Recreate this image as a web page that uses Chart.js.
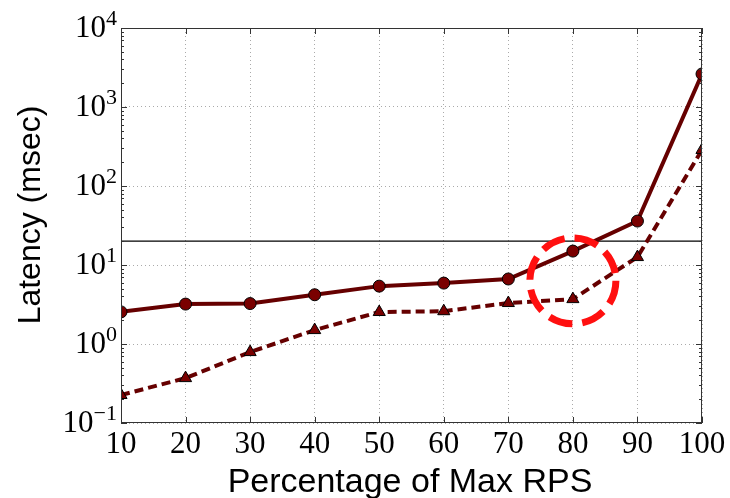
<!DOCTYPE html>
<html>
<head>
<meta charset="utf-8">
<script src="https://cdn.jsdelivr.net/npm/chart.js@4"></script>
<style>
  html, body { margin: 0; padding: 0; background: #fff; }
  #wrap { width: 730px; height: 498px; }
</style>
</head>
<body>
<div id="wrap"><canvas id="chart" width="730" height="498"></canvas></div>
<script>
// Data
const rpsPercent = [10, 20, 30, 40, 50, 60, 70, 80, 90, 100];
const latencyCircle = [2.55, 3.2, 3.25, 4.2, 5.4, 5.9, 6.65, 15, 36, 2620];
const latencyTriangle = [0.226, 0.37, 0.79, 1.5, 2.54, 2.6, 3.3, 3.7, 12.6, 286];
const sloLatency = 20;
const xTickValues = [10, 20, 30, 40, 50, 60, 70, 80, 90, 100];
const yTickExponents = [-1, 0, 1, 2, 3, 4];
const highlightPoint = [80, 6.3];

const xTitle = "Percentage of Max RPS";
const yTitle = "Latency (msec)";

const lineColor = "#660000";
const markerColor = "#7a0000";

function toPoints(xs, ys) {
  return xs.map((x, i) => ({ x: x, y: ys[i] }));
}

// Ticks, labels, frame and the highlight circle
const decorPlugin = {
  id: "decor",
  afterDraw(chart) {
    const ctx = chart.ctx;
    const area = chart.chartArea;
    const xs = chart.scales.x;
    const ys = chart.scales.y;
    ctx.save();

    // highlight circle
    ctx.beginPath();
    ctx.arc(xs.getPixelForValue(highlightPoint[0]), ys.getPixelForValue(highlightPoint[1]), 43, 0, Math.PI * 2);
    ctx.strokeStyle = "#ff1010";
    ctx.lineWidth = 7;
    ctx.setLineDash([24, 10]);
    ctx.stroke();
    ctx.setLineDash([]);

    // frame
    ctx.strokeStyle = "#333";
    ctx.lineWidth = 1;
    ctx.strokeRect(area.left + 0.5, area.top + 0.5, area.right - area.left - 1, area.bottom - area.top - 1);

    // inward tick marks
    ctx.beginPath();
    xTickValues.forEach(v => {
      const px = Math.round(xs.getPixelForValue(v)) + 0.5;
      ctx.moveTo(px, area.bottom); ctx.lineTo(px, area.bottom - 6);
      ctx.moveTo(px, area.top); ctx.lineTo(px, area.top + 6);
    });
    yTickExponents.forEach(e => {
      const py = Math.round(ys.getPixelForValue(Math.pow(10, e))) + 0.5;
      ctx.moveTo(area.left, py); ctx.lineTo(area.left + 6, py);
      ctx.moveTo(area.right, py); ctx.lineTo(area.right - 6, py);
      if (e < 4) {
        for (let k = 2; k <= 9; k++) {
          const pm = Math.round(ys.getPixelForValue(k * Math.pow(10, e))) + 0.5;
          ctx.moveTo(area.left, pm); ctx.lineTo(area.left + 3, pm);
          ctx.moveTo(area.right, pm); ctx.lineTo(area.right - 3, pm);
        }
      }
    });
    ctx.stroke();

    // x tick labels
    ctx.fillStyle = "#000";
    ctx.font = "31px 'Liberation Serif'";
    ctx.textAlign = "center";
    ctx.textBaseline = "alphabetic";
    xTickValues.forEach(v => {
      ctx.fillText(String(v), xs.getPixelForValue(v), area.bottom + 30);
    });

    // y tick labels: 10 with superscript exponent
    yTickExponents.forEach(e => {
      const py = ys.getPixelForValue(Math.pow(10, e));
      const sup = e < 0 ? "\u2212" + Math.abs(e) : String(e);
      ctx.font = "22px 'Liberation Serif'";
      const supW = ctx.measureText(sup).width;
      ctx.textAlign = "right";
      ctx.fillText(sup, area.left - 4, py - 3);
      ctx.font = "31px 'Liberation Serif'";
      ctx.fillText("10", area.left - 4 - supW, py + 9);
    });

    // axis titles
    ctx.font = "34px 'Liberation Sans'";
    ctx.textAlign = "center";
    ctx.fillText(xTitle, 410, 492);
    ctx.font = "32px 'Liberation Sans'";
    ctx.translate(40, 215);
    ctx.rotate(-Math.PI / 2);
    ctx.fillText(yTitle, 0, 0);
    ctx.restore();
  }
};

new Chart(document.getElementById("chart"), {
  type: "line",
  data: {
    datasets: [
      {
        label: "SLO",
        data: toPoints([xTickValues[0], xTickValues[xTickValues.length - 1]], [sloLatency, sloLatency]),
        borderColor: "#000",
        borderWidth: 1.3,
        pointRadius: 0,
        order: 3
      },
      {
        label: "triangle",
        data: toPoints(rpsPercent, latencyTriangle),
        borderColor: lineColor,
        borderWidth: 4,
        borderDash: [9, 5],
        pointStyle: "triangle",
        pointRadius: 7,
        pointBackgroundColor: markerColor,
        pointBorderColor: "#000",
        pointBorderWidth: 1,
        clip: 0,
        order: 2
      },
      {
        label: "circle",
        data: toPoints(rpsPercent, latencyCircle),
        borderColor: lineColor,
        borderWidth: 4,
        pointStyle: "circle",
        pointRadius: 6,
        pointBackgroundColor: markerColor,
        pointBorderColor: "#000",
        pointBorderWidth: 1,
        clip: 0,
        order: 1
      }
    ]
  },
  options: {
    responsive: false,
    animation: false,
    layout: { padding: { top: 28, right: 28, left: 0, bottom: 0 } },
    plugins: { legend: { display: false }, tooltip: { enabled: false } },
    scales: {
      x: {
        type: "linear",
        min: 10,
        max: 100,
        ticks: { display: false, stepSize: 10 },
        grid: { color: "#aaa", lineWidth: 1, drawTicks: false },
        border: { display: false, dash: [1, 3] },
        afterFit(scale) { scale.height = 75; }
      },
      y: {
        type: "logarithmic",
        min: 0.1,
        max: 10000,
        ticks: { display: false },
        afterBuildTicks(scale) {
          scale.ticks = yTickExponents.map(e => ({ value: Math.pow(10, e), major: true }));
        },
        grid: { color: "#aaa", lineWidth: 1, drawTicks: false },
        border: { display: false, dash: [1, 3] },
        afterFit(scale) { scale.width = 121; }
      }
    }
  },
  plugins: [decorPlugin]
});
</script>
</body>
</html>
